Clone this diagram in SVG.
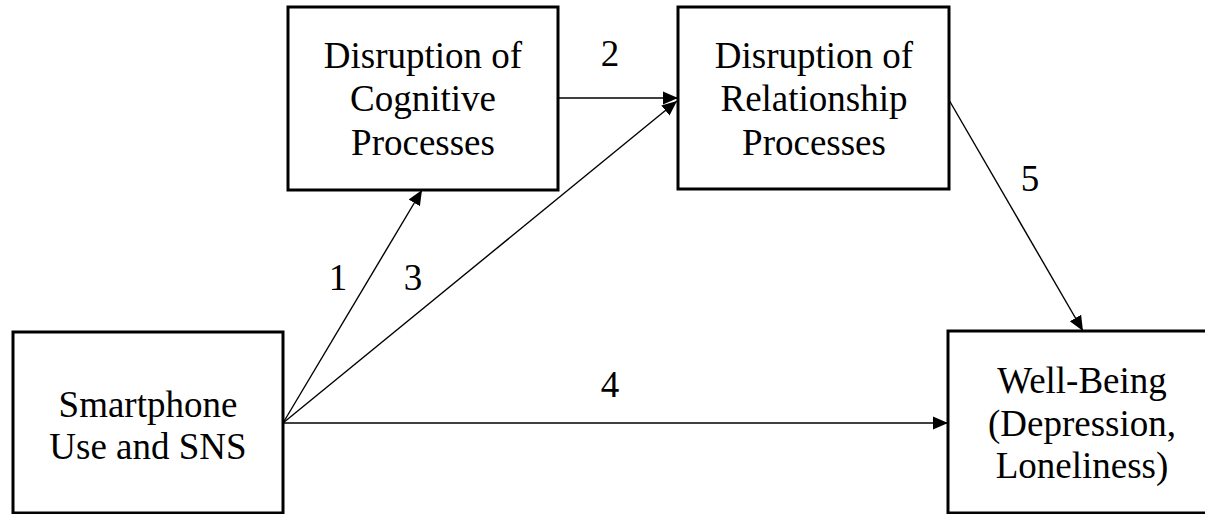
<svg xmlns="http://www.w3.org/2000/svg" width="1205" height="514" viewBox="0 0 1205 514">
<style>
.box{fill:#fff;stroke:#000;stroke-width:3}
.t{font-family:"Liberation Serif","Times New Roman",serif;font-size:37px;fill:#000;text-anchor:middle}
.c{stroke:#000;stroke-width:1.4;fill:none;marker-end:url(#ah)}
</style>
<defs>
<marker id="ah" markerUnits="userSpaceOnUse" markerWidth="16" markerHeight="14" refX="15" refY="6.5" orient="auto" viewBox="0 0 16 13">
<path d="M0,0 L15,6.5 L0,13 z" fill="#000"/>
</marker>
</defs>
<g id="connectors">
<line class="c" x1="283" y1="423" x2="422" y2="190"/>
<line class="c" x1="558" y1="98" x2="678" y2="98"/>
<line class="c" x1="283" y1="423" x2="677" y2="101"/>
<line class="c" x1="283" y1="423" x2="948" y2="423"/>
<line class="c" x1="949" y1="100" x2="1083" y2="331"/>
<text class="t" x="338" y="290">1</text>
<text class="t" x="610" y="66">2</text>
<text class="t" x="413" y="290">3</text>
<text class="t" x="610" y="397">4</text>
<text class="t" x="1030" y="191">5</text>
</g>
<g id="cognitive">
<rect class="box" x="288" y="7" width="270" height="183"/>
<text class="t" x="423" y="68">Disruption of</text>
<text class="t" x="423" y="111">Cognitive</text>
<text class="t" x="423" y="155">Processes</text>
</g>
<g id="relationship">
<rect class="box" x="678" y="7" width="271" height="182"/>
<text class="t" x="814" y="68">Disruption of</text>
<text class="t" x="814" y="111">Relationship</text>
<text class="t" x="814" y="155">Processes</text>
</g>
<g id="smartphone">
<rect class="box" x="13" y="332" width="270" height="181"/>
<text class="t" x="148" y="417">Smartphone</text>
<text class="t" x="148" y="459">Use and SNS</text>
</g>
<g id="wellbeing">
<rect class="box" x="948" y="331" width="270" height="182"/>
<text class="t" x="1082" y="393">Well-Being</text>
<text class="t" x="1082" y="436">(Depression,</text>
<text class="t" x="1082" y="478">Loneliness)</text>
</g>
</svg>
